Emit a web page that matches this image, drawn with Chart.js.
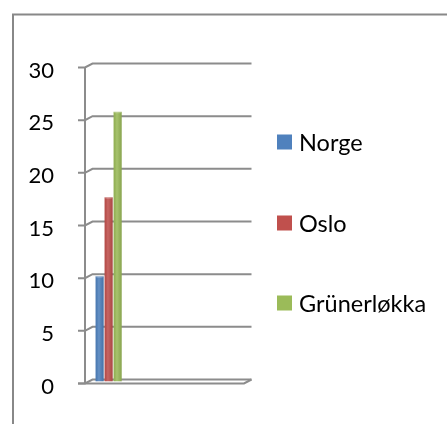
<!DOCTYPE html>
<html>
<head>
<meta charset="utf-8">
<script src="https://cdn.jsdelivr.net/npm/chart.js@4/dist/chart.umd.min.js"></script>
<style>
  html, body { margin: 0; padding: 0; background: #fff; }
  canvas { display: block; }
</style>
</head>
<body>
<canvas id="chart" width="447" height="424"></canvas>
<script>
// data
const categories = ['', '', '', ''];
const seriesNames = ['Norge', 'Oslo', 'Grünerløkka'];
const norgeValues = [10, null, null, null];
const osloValues = [17.5, null, null, null];
const grunerlokkaValues = [25.6, null, null, null];
const yMin = 0, yMax = 30, yStep = 5;

const colors = ['#4f81bd', '#c0504d', '#9bbb59'];
const lineColor = '#8c8c8c';
const fontFamily = 'Lato, "Open Sans", sans-serif';

// fake 3D depth of the plot (back wall offset)
const DX = 7.5, DY = 4;

const frame3d = {
    id: 'frame3d',
    beforeDraw(chart) {
        const ctx = chart.ctx;
        ctx.save();
        ctx.fillStyle = '#fff';
        ctx.fillRect(0, 0, chart.width, chart.height);
        // outer chart border (only left and top visible)
        ctx.strokeStyle = '#888888';
        ctx.lineWidth = 2;
        ctx.beginPath();
        ctx.moveTo(13, chart.height + 5);
        ctx.lineTo(13, 14.5);
        ctx.lineTo(chart.width + 5, 14.5);
        ctx.stroke();
        ctx.restore();
    },
    beforeDatasetsDraw(chart) {
        const ctx = chart.ctx;
        const a = chart.chartArea;
        const y = chart.scales.y;
        ctx.save();
        ctx.strokeStyle = lineColor;
        ctx.lineWidth = 2;
        for (let v = yMin; v <= yMax; v += yStep) {
            const py = y.getPixelForValue(v);
            ctx.beginPath();
            ctx.moveTo(a.left - 7, py);
            ctx.lineTo(a.left, py);
            ctx.lineTo(a.left + DX, py - DY);
            ctx.lineTo(a.right + DX, py - DY);
            ctx.stroke();
        }
        // front axis
        ctx.beginPath();
        ctx.moveTo(a.left, a.top);
        ctx.lineTo(a.left, a.bottom);
        ctx.stroke();
        ctx.restore();
        // bars sit in the middle of the depth
        ctx.save();
        ctx.translate(DX / 2, -DY / 2);
    },
    afterDatasetsDraw(chart) {
        const ctx = chart.ctx;
        // soft round shading on the bars
        chart.data.datasets.forEach((ds, i) => {
            chart.getDatasetMeta(i).data.forEach((el, j) => {
                if (ds.data[j] == null) return;
                const l = el.x - el.width / 2, r = el.x + el.width / 2;
                const g = ctx.createLinearGradient(l, 0, r, 0);
                g.addColorStop(0, 'rgba(0,0,0,0.06)');
                g.addColorStop(0.4, 'rgba(255,255,255,0.12)');
                g.addColorStop(1, 'rgba(0,0,0,0.12)');
                ctx.fillStyle = g;
                ctx.fillRect(l, el.y, el.width, el.base - el.y);
                ctx.fillStyle = 'rgba(255,255,255,0.25)';
                ctx.beginPath();
                ctx.ellipse(el.x, el.y, el.width / 2, 1.5, 0, 0, Math.PI * 2);
                ctx.fill();
            });
        });
        ctx.restore();

        const a = chart.chartArea;
        ctx.save();
        ctx.strokeStyle = lineColor;
        ctx.lineWidth = 2;
        // floor front edge and right edge
        ctx.beginPath();
        ctx.moveTo(a.left - 7, a.bottom);
        ctx.lineTo(a.right, a.bottom);
        ctx.lineTo(a.right + DX, a.bottom - DY);
        ctx.stroke();
        ctx.restore();
    }
};

// legend drawn by hand, items spread down the right side
const sideLegend = {
    id: 'sideLegend',
    afterDraw(chart) {
        const ctx = chart.ctx;
        const rows = [142, 223, 303];
        ctx.save();
        ctx.font = '23.5px ' + fontFamily;
        ctx.textBaseline = 'middle';
        chart.data.datasets.forEach((ds, i) => {
            ctx.fillStyle = ds.backgroundColor;
            ctx.fillRect(277, rows[i] - 7.5, 15, 15);
            ctx.fillStyle = '#000';
            ctx.fillText(ds.label, 299, rows[i] + 1);
        });
        ctx.restore();
    }
};

new Chart(document.getElementById('chart'), {
    type: 'bar',
    data: {
        labels: categories,
        datasets: [
            { label: seriesNames[0], data: norgeValues, backgroundColor: colors[0] },
            { label: seriesNames[1], data: osloValues, backgroundColor: colors[1] },
            { label: seriesNames[2], data: grunerlokkaValues, backgroundColor: colors[2] }
        ]
    },
    options: {
        responsive: false,
        animation: false,
        layout: { padding: { top: 67.5, right: 203, bottom: 40.5, left: 0 } },
        datasets: {
            bar: { categoryPercentage: 0.68, barPercentage: 0.9 }
        },
        plugins: {
            legend: { display: false },
            tooltip: { enabled: false }
        },
        scales: {
            x: { display: false },
            y: {
                min: yMin,
                max: yMax,
                grid: { display: false },
                border: { display: false },
                ticks: {
                    stepSize: yStep,
                    color: '#000',
                    padding: 23,
                    labelOffset: 3,
                    font: { family: fontFamily, size: 22 }
                },
                afterFit(scale) { scale.width = 85; }
            }
        }
    },
    plugins: [frame3d, sideLegend]
});
</script>
</body>
</html>
